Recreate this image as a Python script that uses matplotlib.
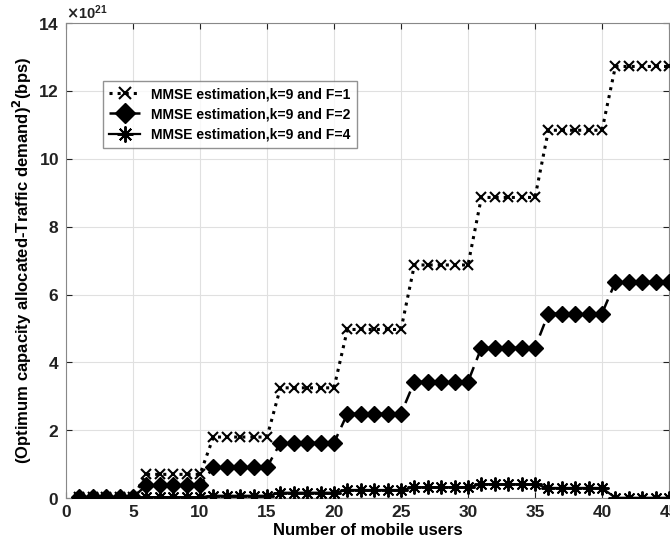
import numpy as np
import matplotlib
matplotlib.use('Agg')
import matplotlib.pyplot as plt

plt.rcParams['font.family'] = ['Liberation Sans', 'DejaVu Sans']
plt.rcParams['font.weight'] = 'bold'
plt.rcParams['mathtext.default'] = 'bf'

# number of mobile users
users = list(range(1, 46))

# values in units of 1e21 bps^2, five users per step
f1_steps = [0.02, 0.70, 1.80, 3.25, 4.97, 6.87, 8.86, 10.84, 12.72]
f2_steps = [0.02, 0.38, 0.91, 1.63, 2.49, 3.43, 4.43, 5.44, 6.37]
f4_steps = [0.00, 0.03, 0.07, 0.16, 0.24, 0.32, 0.41, 0.30, 0.01]

f1 = np.repeat(f1_steps, 5) * 1e21
f2 = np.repeat(f2_steps, 5) * 1e21
f4 = np.repeat(f4_steps, 5) * 1e21

labels = ['MMSE estimation,k=9 and F=1',
          'MMSE estimation,k=9 and F=2',
          'MMSE estimation,k=9 and F=4']

fig = plt.figure(figsize=(6.7, 5.48), dpi=100)
ax = fig.add_axes([0.0985, 0.091, 0.90, 0.867])

ax.plot(users, f4, color='black', linestyle='-', linewidth=1.6,
        marker=(8, 2, 0), markersize=10, markeredgewidth=1.4, label=labels[2], zorder=3)
ax.plot(users, f2, color='black', linestyle=(0, (5, 3)), linewidth=1.8,
        marker='D', markersize=8.5, label=labels[1], zorder=4)
ax.plot(users, f1, color='black', linestyle=':', linewidth=2.2,
        marker='x', markersize=7, markeredgewidth=1.5, label=labels[0], zorder=5)

ax.set_xlim(0, 45)
ax.set_ylim(0, 14e21)
ax.set_xticks(range(0, 46, 5))
ax.set_yticks(np.arange(0, 15, 2) * 1e21)
ax.ticklabel_format(axis='y', style='sci', scilimits=(21, 21), useMathText=True)
ax.grid(True, color='#e0e0e0', linewidth=0.8)
ax.set_axisbelow(True)
for s in ax.spines.values():
    s.set_color('#888888')
ax.tick_params(direction='in', length=4, colors='#222222', labelsize=12.5,
               top=True, right=True, pad=5)
ax.yaxis.get_offset_text().set_fontsize(10.5)

ax.set_xlabel('Number of mobile users', fontsize=12, fontweight='bold', labelpad=2)
ax.set_ylabel('(Optimum capacity allocated-Traffic demand)$^2$(bps)',
              fontsize=12, fontweight='bold', labelpad=3)

h, l = ax.get_legend_handles_labels()
leg = ax.legend(h[::-1], l[::-1], loc='upper left', bbox_to_anchor=(0.05, 0.893),
                fontsize=10, frameon=True, fancybox=False, edgecolor='#777777',
                handlelength=2.2, handletextpad=0.8, borderpad=0.45, labelspacing=0.45,
                markerscale=1.15)
leg.get_frame().set_linewidth(1.0)

fig.savefig('out.png', dpi=100)
